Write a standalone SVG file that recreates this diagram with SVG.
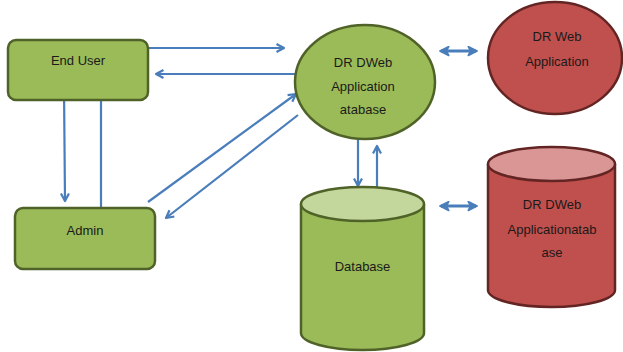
<svg xmlns="http://www.w3.org/2000/svg" width="623" height="352" viewBox="0 0 623 352">
  <style>
    .green { fill: #9bbb59; stroke: #4f6228; stroke-width: 2.5; }
    .greenTop { fill: #c3d69b; stroke: #4f6228; stroke-width: 2.5; }
    .red { fill: #c0504d; stroke: #632523; stroke-width: 2.5; }
    .redTop { fill: #d99694; stroke: #632523; stroke-width: 2.5; }
    .label { font-family: "Liberation Sans", Arial, sans-serif; font-size: 13px; fill: #1a1a1a; text-anchor: middle; }
    .link { stroke: #4a7ebb; stroke-width: 2.2; fill: none; }
    .dbl { stroke: #4a7ebb; stroke-width: 3.2; fill: none; }
  </style>
  <defs>
    <marker id="head" viewBox="0 0 10 10" refX="9" refY="5" markerWidth="10" markerHeight="10" markerUnits="userSpaceOnUse" orient="auto" overflow="visible">
      <polyline points="1.5,1 9,5 1.5,9" fill="none" stroke="#4a7ebb" stroke-width="2.2" stroke-linejoin="round"/>
    </marker>
    <marker id="solidHead" viewBox="0 0 10 10" refX="8" refY="5" markerWidth="11" markerHeight="11" markerUnits="userSpaceOnUse" orient="auto-start-reverse">
      <path d="M1,1 L9,5 L1,9 L3,5 Z" fill="#4a7ebb" stroke="#4a7ebb" stroke-width="1.5" stroke-linejoin="round"/>
    </marker>
  </defs>

  <!-- connectors -->
  <g id="connectors">
    <line class="link" x1="148" y1="48" x2="284" y2="48" marker-end="url(#head)"/>
    <line class="link" x1="298" y1="74" x2="156" y2="74" marker-end="url(#head)"/>
    <line class="link" x1="148" y1="202" x2="296" y2="94" marker-end="url(#head)"/>
    <line class="link" x1="298" y1="115" x2="166" y2="218" marker-end="url(#head)"/>
    <line class="link" x1="64" y1="88" x2="65" y2="201" marker-end="url(#head)"/>
    <line class="link" x1="101" y1="208" x2="101" y2="81" marker-end="url(#head)"/>
    <line class="link" x1="358" y1="140" x2="358" y2="186" marker-end="url(#head)"/>
    <line class="link" x1="377" y1="190" x2="377" y2="146" marker-end="url(#head)"/>
    <line class="dbl" x1="441" y1="51" x2="476" y2="51" marker-start="url(#solidHead)" marker-end="url(#solidHead)"/>
    <line class="dbl" x1="441" y1="206" x2="476" y2="206" marker-start="url(#solidHead)" marker-end="url(#solidHead)"/>
  </g>

  <g id="end-user">
    <rect class="green" x="8" y="40" width="140" height="60" rx="8"/>
    <text class="label" x="78" y="65">End User</text>
  </g>

  <g id="admin">
    <rect class="green" x="15" y="208" width="140" height="61" rx="8"/>
    <text class="label" x="85" y="235">Admin</text>
  </g>

  <g id="drdweb-app">
    <ellipse class="green" cx="365" cy="82" rx="70" ry="57"/>
    <text class="label" x="363" y="67">DR DWeb</text>
    <text class="label" x="363" y="91">Application</text>
    <text class="label" x="363" y="114">atabase</text>
  </g>

  <g id="drweb-app">
    <ellipse class="red" cx="555" cy="58" rx="67" ry="56"/>
    <text class="label" x="557" y="41">DR Web</text>
    <text class="label" x="557" y="66">Application</text>
  </g>

  <g id="database">
    <path class="green" d="M301,204 L301,333 A61.5,17 0 0 0 424,333 L424,204"/>
    <ellipse class="greenTop" cx="362.5" cy="204" rx="61.5" ry="17"/>
    <text class="label" x="362.5" y="271">Database</text>
  </g>

  <g id="drdweb-db">
    <path class="red" d="M488,164 L488,290 A63.5,17 0 0 0 615,290 L615,164"/>
    <ellipse class="redTop" cx="551.5" cy="164" rx="63.5" ry="17"/>
    <text class="label" x="552" y="209">DR DWeb</text>
    <text class="label" x="552" y="234">Applicationatab</text>
    <text class="label" x="552" y="257">ase</text>
  </g>
</svg>
